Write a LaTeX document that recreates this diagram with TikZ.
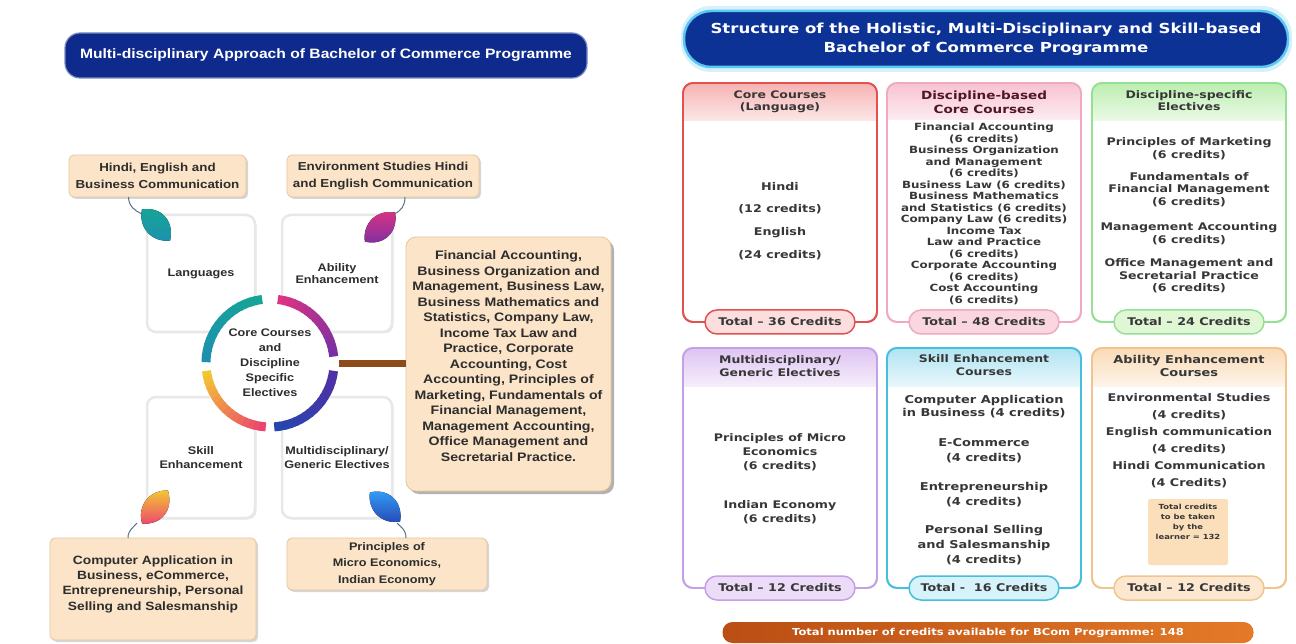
\documentclass[tikz,border=0pt]{standalone}
\usepackage{fontspec}
\setmainfont{Liberation Sans}
\newfontfamily\lfont[FakeStretch=1.15]{Liberation Sans}
\newfontfamily\rfont[FakeStretch=1.2]{DejaVu Sans}
\usetikzlibrary{shadows}
\newcommand\setfs[2]{\fontsize{#1}{#2}\selectfont}
\definecolor{navy}{RGB}{14,42,140}
\definecolor{navyR}{RGB}{12,50,150}
\definecolor{glow}{RGB}{90,200,240}
\definecolor{peach}{RGB}{251,228,200}
\definecolor{peachD}{RGB}{230,198,160}
\definecolor{txt}{RGB}{45,45,45}
\definecolor{rtxt}{RGB}{55,55,55}
\definecolor{maroon}{RGB}{80,22,40}
\definecolor{brownC}{RGB}{140,75,25}
\definecolor{stemC}{RGB}{90,115,135}
\definecolor{cTealA}{RGB}{22,165,150}
\definecolor{cTealB}{RGB}{28,145,175}
\definecolor{cMagA}{RGB}{222,50,130}
\definecolor{cMagB}{RGB}{120,48,165}
\definecolor{cBluA}{RGB}{80,48,165}
\definecolor{cBluB}{RGB}{38,70,175}
\definecolor{cYelA}{RGB}{242,200,50}
\definecolor{cYelB}{RGB}{236,68,112}
\definecolor{redB}{RGB}{226,80,80}
\definecolor{redH}{RGB}{246,178,178}
\definecolor{redP}{RGB}{252,222,222}
\definecolor{pinkB}{RGB}{240,170,190}
\definecolor{pinkH}{RGB}{248,194,210}
\definecolor{pinkP}{RGB}{250,214,224}
\definecolor{grnB}{RGB}{150,224,150}
\definecolor{grnH}{RGB}{188,238,176}
\definecolor{grnP}{RGB}{224,247,214}
\definecolor{purB}{RGB}{196,160,230}
\definecolor{purH}{RGB}{222,196,242}
\definecolor{purP}{RGB}{236,220,248}
\definecolor{cyaB}{RGB}{70,190,220}
\definecolor{cyaH}{RGB}{176,228,242}
\definecolor{cyaP}{RGB}{214,242,250}
\definecolor{orgB}{RGB}{240,196,140}
\definecolor{orgH}{RGB}{250,218,182}
\definecolor{orgP}{RGB}{252,232,208}
\definecolor{innerC}{RGB}{251,222,186}
\definecolor{bandL}{RGB}{186,78,20}
\definecolor{bandR}{RGB}{228,122,40}
% name, x-left, y-top, y-bottom, border, header, header height
\newcommand\colbox[7]{%
  \node[fill=white, draw=#5, line width=1.8, rounded corners=10, minimum width=194, minimum height={#4-#3}] (#1) at ({#2+97},{(#3+#4)/2}) {};
  \begin{scope}
    \clip[rounded corners=10] (#1.north west) rectangle (#1.south east);
    \fill[top color=#6, bottom color=#6!30!white] (#1.north west) rectangle ([yshift=-#7pt]#1.north east);
  \end{scope}
  \draw[draw=#5, line width=1.8, rounded corners=10] (#1.north west) rectangle (#1.south east);
}
% visual start angle, end angle, colour 1, colour 2
\newcommand\gradarc[4]{%
  \foreach \i in {0,...,15}{%
    \pgfmathsetmacro\pa{#1+(#2-#1)*\i/16}%
    \pgfmathsetmacro\pb{#1+(#2-#1)*(\i+1.25)/16}%
    \pgfmathtruncatemacro\pc{\i*100/15}%
    \draw[line width=9, draw=#4!\pc!#3] (ring.center) ++(-\pa:64) arc[start angle=-\pa, end angle=-\pb, radius=64];
  }%
}
\begin{document}
\begin{tikzpicture}[x=1pt, y=-1pt,
  every node/.style={inner sep=0pt, outer sep=0pt},
  lt/.style={text=txt, align=center},
  rt/.style={text=rtxt, align=center},
  lbl/.style={fill=peach, draw=peachD, line width=0.8, rounded corners=5, drop shadow={shadow xshift=2pt, shadow yshift=-2pt, fill=black!35, opacity=0.45}},
  sq/.style={fill=white, draw=black!9, line width=2.5, rounded corners=9, drop shadow={shadow xshift=1.5pt, shadow yshift=-1.5pt, fill=black!25, opacity=0.35}},
  stem/.style={draw=stemC, line width=1},
  pill/.style={rounded corners=12, line width=1.5, minimum width=150, minimum height=24, text=rtxt, font=\rfont\bfseries\setfs{10.6}{12}}]
\useasboundingbox (0,0) rectangle (1296,644);
\fill[white] (0,0) rectangle (1296,644);

% ---------------- left panel ----------------
\node[fill=navy, draw=navy!55!white, line width=1.2, rounded corners=15, minimum width=522, minimum height=45,
      text=white, font=\lfont\bfseries\setfs{13.6}{16}] (ltitle) at (326,55.5)
  {Multi-disciplinary Approach of Bachelor of Commerce Programme};

\node[lbl, minimum width=177, minimum height=42, lt, font=\lfont\bfseries\setfs{11.6}{17}] (lhindi) at (157.5,176)
  {Hindi, English and\\Business Communication};
\node[lbl, minimum width=192, minimum height=42, lt, font=\lfont\bfseries\setfs{11.6}{17}] (lenv) at (383,176)
  {Environment Studies Hindi\\and English Communication};

\node[sq, minimum width=108, minimum height=117, lt, font=\lfont\bfseries\setfs{11}{12.7}] (sqlang) at (201,273.5) {Languages};
\node[sq, minimum width=110, minimum height=117, lt, font=\lfont\bfseries\setfs{11}{12.7}] (sqabil) at (337,273.5) {Ability\\Enhancement};
\node[sq, minimum width=108, minimum height=121, lt, font=\lfont\bfseries\setfs{11}{14}] (sqskill) at (201,457.5) {Skill\\Enhancement};
\node[sq, minimum width=110, minimum height=121, lt, font=\lfont\bfseries\setfs{11}{14}] (sqmulti) at (337,457.5) {Multidisciplinary/\\Generic Electives};

% big description box
\node[fill=peach, draw=peachD, line width=0.8, rounded corners=10, minimum width=205, minimum height=254,
      drop shadow={shadow xshift=3pt, shadow yshift=-3pt, fill=black!60, opacity=0.5}] (bigbox) at (508.5,364) {};
\node[lt, font=\lfont\bfseries\setfs{12.3}{15.5}] (bigtext) at (508.5,356)
  {Financial Accounting,\\Business Organization and\\Management, Business Law,\\Business Mathematics and\\Statistics, Company Law,\\Income Tax Law and\\Practice, Corporate\\Accounting, Cost\\Accounting, Principles of\\Marketing, Fundamentals of\\Financial Management,\\Management Accounting,\\Office Management and\\Secretarial Practice.};

% centre ring
\node[circle, fill=white, minimum size=138, lt, font=\lfont\bfseries\setfs{11}{15}] (ring) at (270,363)
  {Core Courses\\and\\Discipline\\Specific\\Electives};
\gradarc{97}{178}{cTealA}{cTealB}
\gradarc{83}{7}{cMagA}{cMagB}
\gradarc{353}{275}{cBluA}{cBluB}
\gradarc{187}{265}{cYelA}{cYelB}
\draw[line width=7, draw=brownC] (ring.east) -- (ring.east -| bigbox.west);

% bottom boxes
\node[lbl, minimum width=206, minimum height=102] (lcomp) at (153,589) {};
\node[lt, font=\lfont\bfseries\setfs{12}{15.3}] (lcomptext) at (153,584)
  {Computer Application in\\Business, eCommerce,\\Entrepreneurship, Personal\\Selling and Salesmanship};
\node[lbl, minimum width=200, minimum height=52, lt, font=\lfont\bfseries\setfs{11}{16.5}] (lmicro) at (387,564)
  {Principles of\\Micro Economics,\\Indian Economy};

% leaves
\begin{scope}[shift={(156,225)}, rotate=-48]
  \fill[top color=cTealA, bottom color=cTealB] (-21,0) .. controls (-10,-17) and (10,-16) .. (21,0) .. controls (10,15) and (-10,15) .. (-21,0) -- cycle;
\end{scope}
\begin{scope}[shift={(380,227)}, rotate=44]
  \fill[top color=cMagA, bottom color=cMagB] (-21,0) .. controls (-10,-15) and (10,-15) .. (21,0) .. controls (10,16) and (-10,17) .. (-21,0) -- cycle;
\end{scope}
\begin{scope}[shift={(155,507)}, rotate=52]
  \fill[top color=cYelA, bottom color=cYelB] (-21,0) .. controls (-10,-15) and (10,-15) .. (21,0) .. controls (10,16) and (-10,17) .. (-21,0) -- cycle;
\end{scope}
\begin{scope}[shift={(385,507)}, rotate=-44]
  \fill[top color=blue!45!cyan!80!white, bottom color=cBluB] (-21,0) .. controls (-10,-17) and (10,-16) .. (21,0) .. controls (10,15) and (-10,15) .. (-21,0) -- cycle;
\end{scope}
\coordinate (stA) at (142,214);
\coordinate (stB) at (394,214);
\coordinate (stC) at (137,523);
\coordinate (stD) at (397,523);
\draw[stem] ([xshift=-29pt]lhindi.south) .. controls +(0,9) and +(-7,-3) .. (stA);
\draw[stem] ([xshift=22pt]lenv.south) .. controls +(0,9) and +(7,-3) .. (stB);
\draw[stem] ([xshift=-25pt]lcomp.north) .. controls +(0,-8) and +(-4,5) .. (stC);
\draw[stem] ([xshift=19pt]lmicro.north) .. controls +(0,-8) and +(5,5) .. (stD);

% ---------------- right panel ----------------
\fill[glow!25] (681,6) [rounded corners=30] rectangle (1292,72);
\node[fill=navyR, draw=glow, line width=2.5, rounded corners=27, minimum width=604, minimum height=56,
      text=white, align=center, font=\rfont\bfseries\setfs{13.8}{19.5}] (rtitle) at (986,39)
  {Structure of the Holistic, Multi-Disciplinary and Skill-based\\Bachelor of Commerce Programme};

\colbox{bcore}{683}{83}{322}{redB}{redH}{38}
\colbox{bdisc}{887}{83}{322}{pinkB}{pinkH}{37}
\colbox{belec}{1092}{83}{322}{grnB}{grnH}{38}
\colbox{bmult}{683}{348}{588}{purB}{purH}{38}
\colbox{bskil}{887}{348}{588}{cyaB}{cyaH}{38}
\colbox{babil}{1092}{348}{588}{orgB}{orgH}{38}

% headers
\node[rt, font=\rfont\bfseries\setfs{10.4}{12}] (hcore) at (780,102) {Core Courses\\(Language)};
\node[rt, text=maroon, font=\rfont\bfseries\setfs{11.3}{14}] (hdisc) at (984,102) {Discipline-based\\Core Courses};
\node[rt, font=\rfont\bfseries\setfs{10.4}{12}] (helec) at (1189,101) {Discipline-specific\\Electives};
\node[rt, font=\rfont\bfseries\setfs{10.4}{13}] (hmult) at (780,366.5) {Multidisciplinary/\\Generic Electives};
\node[rt, font=\rfont\bfseries\setfs{10.4}{13}] (hskil) at (984,365.5) {Skill Enhancement\\Courses};
\node[rt, font=\rfont\bfseries\setfs{10.8}{13}] (habil) at (1189,365.5) {Ability Enhancement\\Courses};

% contents
\node[rt, font=\rfont\bfseries\setfs{10.6}{22.7}] (ccore) at (780,221) {Hindi\\(12 credits)\\English\\(24 credits)};
\node[rt, font=\rfont\bfseries\setfs{9.9}{11.5}] (cdisc) at (984,214)
  {Financial Accounting\\(6 credits)\\Business Organization\\and Management\\(6 credits)\\Business Law (6 credits)\\Business Mathematics\\and Statistics (6 credits)\\Company Law (6 credits)\\Income Tax\\Law and Practice\\(6 credits)\\Corporate Accounting\\(6 credits)\\Cost Accounting\\(6 credits)};
\node[rt, font=\rfont\bfseries\setfs{10.5}{12.7}] (cel1) at (1189,148.5) {Principles of Marketing\\(6 credits)};
\node[rt, font=\rfont\bfseries\setfs{10.5}{12.7}] (cel2) at (1189,189.5) {Fundamentals of\\Financial Management\\(6 credits)};
\node[rt, font=\rfont\bfseries\setfs{10.5}{12.7}] (cel3) at (1189,234) {Management Accounting\\(6 credits)};
\node[rt, font=\rfont\bfseries\setfs{10.5}{12.7}] (cel4) at (1189,276) {Office Management and\\Secretarial Practice\\(6 credits)};

\node[rt, font=\rfont\bfseries\setfs{10.5}{14}] (cmu1) at (780,452) {Principles of Micro\\Economics\\(6 credits)};
\node[rt, font=\rfont\bfseries\setfs{10.5}{14}] (cmu2) at (780,512) {Indian Economy\\(6 credits)};

\node[rt, font=\rfont\bfseries\setfs{10.8}{13}] (csk1) at (984,406.5) {Computer Application\\in Business (4 credits)};
\node[rt, font=\rfont\bfseries\setfs{10.8}{15}] (csk2) at (984,450.5) {E-Commerce\\(4 credits)};
\node[rt, font=\rfont\bfseries\setfs{10.8}{15}] (csk3) at (984,494.5) {Entrepreneurship\\(4 credits)};
\node[rt, font=\rfont\bfseries\setfs{10.8}{15}] (csk4) at (984,545) {Personal Selling\\and Salesmanship\\(4 credits)};

\node[rt, font=\rfont\bfseries\setfs{10.6}{17}] (cab) at (1189,440.5)
  {Environmental Studies\\(4 credits)\\English communication\\(4 credits)\\Hindi Communication\\(4 Credits)};
\node[fill=innerC, rounded corners=2, minimum width=80, minimum height=66] (learnbox) at (1188,532) {};
\node[rt, font=\rfont\bfseries\setfs{7}{10}] (learn) at (1188,522) {Total credits\\to be taken\\by the\\learner = 132};

% totals
\node[pill, draw=redB, fill=redP] (tcore) at (bcore.south) {Total – 36 Credits};
\node[pill, draw=pinkB, fill=pinkP] (tdisc) at (bdisc.south) {Total – 48 Credits};
\node[pill, draw=grnB, fill=grnP] (telec) at (belec.south) {Total – 24 Credits};
\node[pill, draw=purB, fill=purP] (tmult) at (bmult.south) {Total – 12 Credits};
\node[pill, draw=cyaB, fill=cyaP] (tskil) at (bskil.south) {Total -\ \ 16 Credits};
\node[pill, draw=orgB, fill=orgP] (tabil) at (babil.south) {Total – 12 Credits};

\node[left color=bandL, right color=bandR, rounded corners=10, minimum width=531, minimum height=21,
      text=white, font=\rfont\bfseries\setfs{9.6}{11}] (grand) at (988,632.5)
  {Total number of credits available for BCom Programme: 148};
\end{tikzpicture}
\end{document}
